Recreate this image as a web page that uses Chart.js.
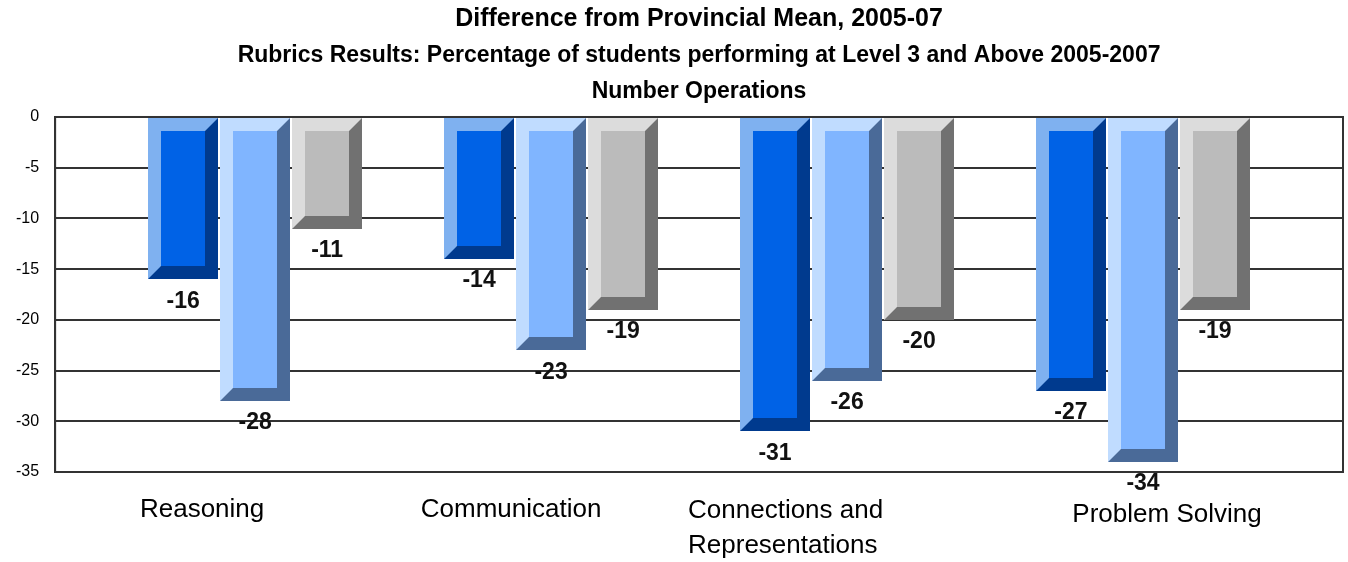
<!DOCTYPE html>
<html lang="en">
<head>
    <meta charset="UTF-8">
    <title>Difference from Provincial Mean, 2005-07</title>
    <script src="https://cdn.jsdelivr.net/npm/chart.js"></script>
    <style>
        body {
            margin: 0;
            padding: 0;
            background: white;
        }
        .chart-box {
            width: 1348px;
            height: 562px;
        }
    </style>
</head>
<body>
<div class="chart-box">
    <canvas id="meanChart" width="1348" height="562"></canvas>
</div>

<script>
    // rubric categories and difference from provincial mean per year
    const categories = ["Reasoning", "Communication", ["Connections and", "Representations"], "Problem Solving"];
    const year2005 = [-16, -14, -31, -27];
    const year2006 = [-28, -23, -26, -34];
    const year2007 = [-11, -19, -20, -19];
    const yTicks = [0, -5, -10, -15, -20, -25, -30, -35];

    // face colours for each series: light bevel, front, dark bevel
    const barStyles = [
        { light: "#7fb1f0", front: "#0062e6", dark: "#003a8e" },
        { light: "#c0dcff", front: "#80b5ff", dark: "#4a6a98" },
        { light: "#dcdcdc", front: "#bbbbbb", dark: "#717171" }
    ];
    // nudges for the category captions under the plot
    const captionShift = [-53, -40, -60, 24];

    function toPoints(values) {
        return values.map((v, i) => ({ x: i, y: v }));
    }

    // draws each bar as a bevelled block
    const bevelBars = {
        id: "bevelBars",
        afterDatasetsDraw(chart) {
            const ctx = chart.ctx;
            const b = 13;
            ctx.save();
            chart.data.datasets.forEach((ds, di) => {
                const st = barStyles[di];
                chart.getDatasetMeta(di).data.forEach(bar => {
                    const x1 = Math.round(bar.x - bar.width / 2);
                    const x2 = Math.round(bar.x + bar.width / 2);
                    const y1 = Math.round(Math.min(bar.y, bar.base));
                    const y2 = Math.round(Math.max(bar.y, bar.base));
                    ctx.fillStyle = st.light;
                    ctx.fillRect(x1, y1, x2 - x1, y2 - y1);
                    ctx.fillStyle = st.dark;
                    ctx.beginPath();
                    ctx.moveTo(x2, y1);
                    ctx.lineTo(x2, y2);
                    ctx.lineTo(x1, y2);
                    ctx.lineTo(x1 + b, y2 - b);
                    ctx.lineTo(x2 - b, y2 - b);
                    ctx.lineTo(x2 - b, y1 + b);
                    ctx.closePath();
                    ctx.fill();
                    ctx.fillStyle = st.front;
                    ctx.fillRect(x1 + b, y1 + b, x2 - x1 - 2 * b, y2 - y1 - 2 * b);
                });
            });

            // value labels under the bars
            ctx.fillStyle = "#111";
            ctx.font = "bold 23px 'Liberation Sans Narrow', 'Arial Narrow', sans-serif";
            ctx.textAlign = "center";
            ctx.textBaseline = "middle";
            chart.data.datasets.forEach((ds, di) => {
                chart.getDatasetMeta(di).data.forEach((bar, i) => {
                    const bottom = Math.max(bar.y, bar.base);
                    ctx.fillText(String(ds.data[i].y), bar.x, bottom + 22);
                });
            });
            ctx.restore();
        }
    };

    // frame round the plot and the category captions
    const frameAndCaptions = {
        id: "frameAndCaptions",
        afterDraw(chart) {
            const ctx = chart.ctx;
            const area = chart.chartArea;
            const xScale = chart.scales.x;
            ctx.save();
            ctx.strokeStyle = "#333";
            ctx.lineWidth = 2;
            ctx.strokeRect(area.left, area.top, area.right - area.left, area.bottom - area.top);

            ctx.fillStyle = "#000";
            ctx.font = "26px 'Liberation Sans', Arial, sans-serif";
            ctx.textBaseline = "middle";
            categories.forEach((cat, i) => {
                const x = xScale.getPixelForValue(i) + captionShift[i];
                if (Array.isArray(cat)) {
                    ctx.textAlign = "left";
                    ctx.fillText(cat[0], x - 99, area.bottom + 39);
                    ctx.fillText(cat[1], x - 99, area.bottom + 74);
                } else {
                    ctx.textAlign = "center";
                    ctx.fillText(cat, x, area.bottom + (i === 3 ? 43 : 38));
                }
            });
            ctx.restore();
        }
    };

    new Chart(document.getElementById("meanChart"), {
        type: "bar",
        data: {
            datasets: [
                { label: "2005", data: toPoints(year2005), backgroundColor: "rgba(0,0,0,0)" },
                { label: "2006", data: toPoints(year2006), backgroundColor: "rgba(0,0,0,0)" },
                { label: "2007", data: toPoints(year2007), backgroundColor: "rgba(0,0,0,0)" }
            ]
        },
        options: {
            responsive: false,
            animation: false,
            categoryPercentage: 0.73,
            barPercentage: 0.97,
            layout: {
                padding: { left: 0, right: 5, top: 0, bottom: 90 }
            },
            plugins: {
                legend: { display: false },
                tooltip: { enabled: false },
                title: {
                    display: true,
                    fullSize: false,
                    text: "Difference from Provincial Mean, 2005-07",
                    color: "#000",
                    font: { family: "'Liberation Sans', Arial, sans-serif", size: 25, weight: "bold" },
                    padding: { top: 4, bottom: 0 }
                },
                subtitle: {
                    display: true,
                    fullSize: false,
                    text: ["Rubrics Results: Percentage of students performing at Level 3 and Above 2005-2007", "Number Operations"],
                    color: "#000",
                    font: { family: "'Liberation Sans', Arial, sans-serif", size: 23, weight: "bold", lineHeight: 1.565 },
                    padding: { top: 4, bottom: 7 }
                }
            },
            scales: {
                x: {
                    type: "linear",
                    display: false,
                    offset: false,
                    min: -0.6757,
                    max: 3.6757,
                    afterBuildTicks(axis) {
                        axis.ticks = categories.map((c, i) => ({ value: i }));
                    }
                },
                y: {
                    min: -35,
                    max: 0,
                    afterBuildTicks(axis) {
                        axis.ticks = yTicks.map(v => ({ value: v }));
                    },
                    ticks: {
                        color: "#000",
                        padding: 16,
                        font: { family: "'Liberation Sans', Arial, sans-serif", size: 16 }
                    },
                    grid: {
                        color: "#333",
                        lineWidth: 2,
                        drawTicks: false
                    },
                    border: { color: "#333", width: 2 }
                }
            }
        },
        plugins: [bevelBars, frameAndCaptions]
    });
</script>
</body>
</html>
